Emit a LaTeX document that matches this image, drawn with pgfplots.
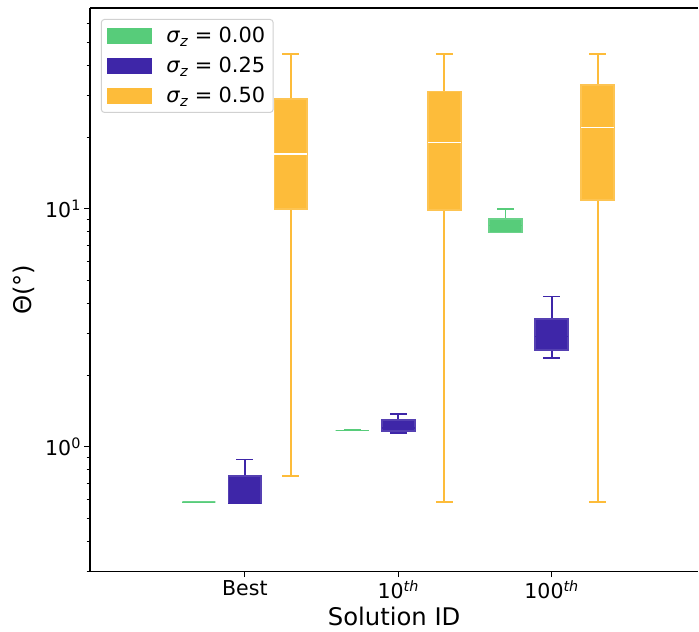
\documentclass[border=0pt]{standalone}
\usepackage{pgfplots}
\pgfplotsset{compat=1.18}
\usepackage{fontspec}
\setmainfont{DejaVu Sans}
\definecolor{cgreen}{HTML}{57CC7A}
\definecolor{cblue}{HTML}{3E26A8}
\definecolor{corange}{HTML}{FDBC3A}
\pgfplotsset{legend image code/.code={\fill[#1, sharp corners, draw=none] (0bp,-8bp) rectangle (45bp,8bp);}}
% #1 position, #2 lower whisker, #3 lower quartile, #4 median, #5 upper quartile, #6 upper whisker, #7 colour, #8 median colour
\newcommand{\bx}[8]{%
  \pgfmathsetmacro{\bxl}{#1-0.1075}\pgfmathsetmacro{\bxr}{#1+0.1075}%
  \pgfmathsetmacro{\bcl}{#1-0.055}\pgfmathsetmacro{\bcr}{#1+0.055}%
  \edef\temp{\noexpand\addplot[forget plot, draw=#7, line width=1.8bp] coordinates {(#1,#5) (#1,#6)};}\temp
  \edef\temp{\noexpand\addplot[forget plot, draw=#7, line width=1.8bp] coordinates {(\bcl,#6) (\bcr,#6)};}\temp
  \edef\temp{\noexpand\addplot[forget plot, draw=#7, line width=1.8bp] coordinates {(#1,#3) (#1,#2)};}\temp
  \edef\temp{\noexpand\addplot[forget plot, draw=#7, line width=1.8bp] coordinates {(\bcl,#2) (\bcr,#2)};}\temp
  \edef\temp{\noexpand\addplot[forget plot, fill=#7, draw=#7!88!white, line width=1.7bp] coordinates {(\bxl,#3) (\bxr,#3) (\bxr,#5) (\bxl,#5)} --cycle;}\temp
  \edef\temp{\noexpand\addplot[forget plot, draw=#8, line width=1.6bp] coordinates {(\bxl,#4) (\bxr,#4)};}\temp
}
\newcommand{\sz}[1]{\textit{σ}\textsubscript{\textit{z}}\hspace{0.3em}=\hspace{0.3em}#1}
\begin{document}
\begin{tikzpicture}
\begin{axis}[
  scale only axis, width=609bp, height=564bp,
  ymode=log, xmin=-1.01, xmax=2.957, ymin=0.2984, ymax=69.9,
  axis x line*=bottom, axis y line*=left,
  axis line style={line width=1.2bp, black},
  clip=false,
  tick align=outside,
  major tick length=5.5bp, minor tick length=3.2bp,
  every tick/.style={black, line width=1.1bp},
  minor tick style={line width=0.9bp},
  xtick={0,1,2},
  xticklabels={Best, 10\textsuperscript{\textit{th}}, 100\textsuperscript{\textit{th}}},
  ytick={1,10},
  yticklabels={10\textsuperscript{0}, 10\textsuperscript{1}},
  minor ytick={0.3,0.4,0.5,0.6,0.7,0.8,0.9,2,3,4,5,6,7,8,9,20,30,40,50,60},
  tick label style={font=\fontsize{20.6}{24}\selectfont},
  xlabel={Solution ID},
  ylabel={Θ(°)},
  label style={font=\fontsize{24.4}{29}\selectfont},
  xlabel style={at={(axis description cs:0.5,0)}, anchor=north, yshift=-32bp},
  ylabel style={at={(axis description cs:0,0.5)}, anchor=south, yshift=52bp},
  legend style={at={(0.018,0.9805)}, anchor=north west,
    draw=black!18, line width=1bp, rounded corners=3bp, fill=white,
    inner xsep=6bp, inner ysep=6bp, row sep=9bp,
    /tikz/every odd column/.append style={column sep=12bp},
    font=\fontsize{21}{24}\selectfont},
  legend cell align=left,
]
\addlegendimage{fill=cgreen}
\addlegendentry{\sz{0.00}}
\addlegendimage{fill=cblue}
\addlegendentry{\sz{0.25}}
\addlegendimage{fill=corange}
\addlegendentry{\sz{0.50}}

% Best
\bx{-0.3}{0.583}{0.583}{0.583}{0.583}{0.583}{cgreen}{cgreen}
\bx{0}{0.576}{0.576}{0.576}{0.75}{0.882}{cblue}{cblue}
\bx{0.3}{0.75}{10.0}{17.0}{29.0}{44.8}{corange}{white}
% 10th
\bx{0.7}{1.17}{1.17}{1.17}{1.17}{1.17}{cgreen}{cgreen}
\bx{1}{1.14}{1.16}{1.2}{1.29}{1.37}{cblue}{cblue}
\bx{1.3}{0.583}{9.9}{19.0}{31.1}{44.8}{corange}{white}
% 100th
\bx{1.7}{7.95}{7.95}{8.5}{9.05}{10.0}{cgreen}{cgreen}
\bx{2}{2.35}{2.54}{2.9}{3.44}{4.28}{cblue}{cblue}
\bx{2.3}{0.583}{10.9}{22.0}{33.2}{44.8}{corange}{white}

\draw[line width=1.2bp, black] (rel axis cs:0,1) -- (rel axis cs:1,1);
\end{axis}
\path ([xshift=-90bp,yshift=-60bp]current axis.south west) rectangle ([yshift=8bp]current axis.north east);
\end{tikzpicture}
\end{document}
